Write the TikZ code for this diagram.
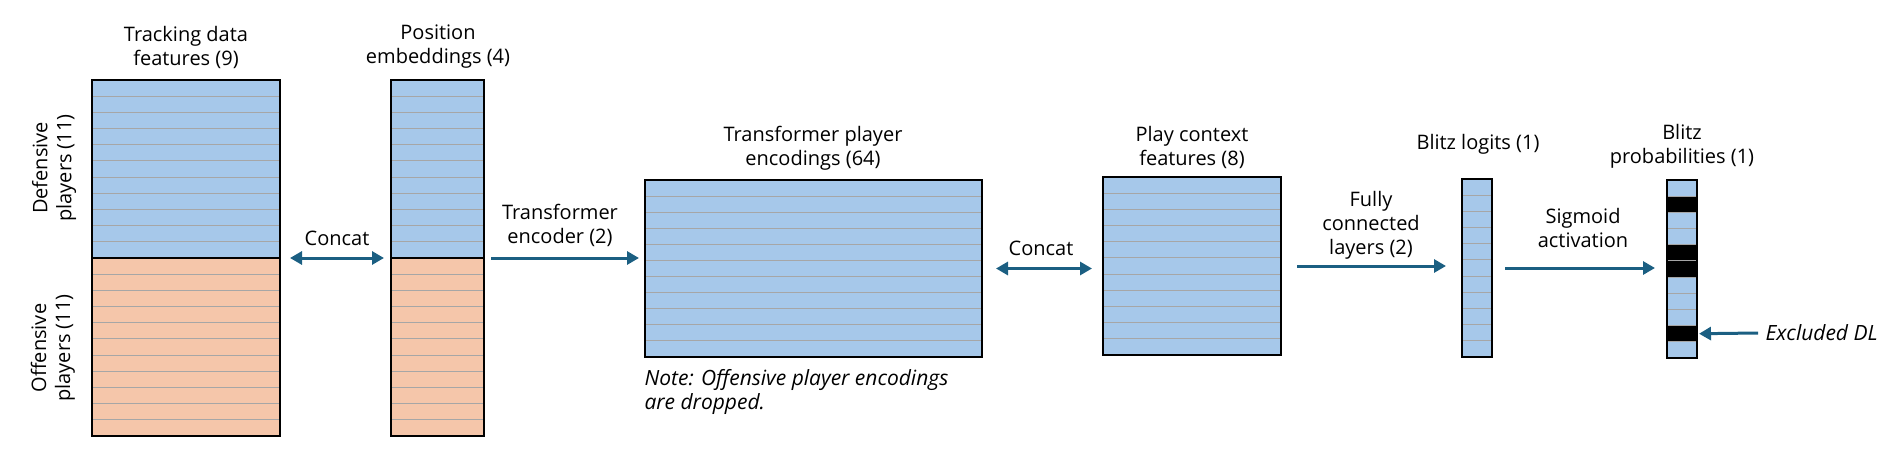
\documentclass[tikz,border=0pt]{standalone}
\usepackage{fontspec}
\setmainfont{Open Sans}
\usetikzlibrary{arrows.meta,positioning,calc}
\definecolor{defblue}{HTML}{A6C8EA}
\definecolor{offorange}{HTML}{F5C6AA}
\definecolor{arrowblue}{HTML}{1B5F82}
\definecolor{rowgray}{HTML}{A6A6A6}

\begin{document}
\begin{tikzpicture}[x=1pt, y=-1pt,
        font=\fontsize{20}{24}\selectfont,
        block/.style={fill=defblue, inner sep=0, outer sep=0, anchor=north west},
        txt/.style={align=center},
        ital/.style={font=\fontsize{21}{24}\selectfont\itshape},
        arr/.style={draw=arrowblue, line width=3pt, -{Triangle[length=12pt,width=13pt]}},
        biarr/.style={arr, {Triangle[length=12pt,width=13pt]}-{Triangle[length=12pt,width=13pt]}}]

        \useasboundingbox (0,0) rectangle (1898,468);

        % Define the blocks
        \node[block, minimum width=188, minimum height=178] (trackD) at (92,80) {};
        \node[block, fill=offorange, minimum width=188, minimum height=178] (trackO) at (trackD.south west) {};
        \node[block, minimum width=93, minimum height=178] (posD) at (391,80) {};
        \node[block, fill=offorange, minimum width=93, minimum height=178] (posO) at (posD.south west) {};
        \node[block, minimum width=337, minimum height=177] (enc) at (645,180) {};
        \node[block, minimum width=178, minimum height=178] (ctx) at (1103,177) {};
        \node[block, minimum width=30, minimum height=178] (logit) at (1462,179) {};
        \node[block, minimum width=30, minimum height=178] (prob) at (1667,180) {};

        % Excluded rows
        \foreach \r in {2,5,6,10}
            \fill[black] ($(prob.north west)!{(\r-1)/11}!(prob.south west)$) rectangle ($(prob.north east)!{\r/11}!(prob.south east)$);
        \coordinate (dlrow) at ($(prob.north east)!9.5/11!(prob.south east)$);

        % Row lines
        \foreach \n in {trackD,trackO,posD,posO,enc,ctx,logit,prob}
            \foreach \i in {1,...,10}
                \draw[rowgray, line width=1pt] ($(\n.north west)!{\i/11}!(\n.south west)$) -- ($(\n.north east)!{\i/11}!(\n.south east)$);
        \foreach \n in {trackD,trackO,posD,posO,enc,ctx,logit,prob}
            \draw[line width=1.2pt] (\n.north west) rectangle (\n.south east);

        % Titles
        \node[txt] (trackT) at (186,47) {Tracking data\\features (9)};
        \node[txt] (posT) at (438,47) {Position\\embeddings (4)};
        \node[txt] (encT) at (813,148) {Transformer player\\encodings (64)};
        \node[txt] (ctxT) at (1192,147) {Play context\\features (8)};
        \node[txt] (logitT) at (1478,144) {Blitz logits (1)};
        \node[txt] (probT) at (1682,146) {Blitz\\probabilities (1)};
        \node[txt, rotate=90] (defL) at (54,168) {Defensive\\players (11)};
        \node[txt, rotate=90] (offL) at (53,348) {Offensive\\players (11)};
        \node[ital, align=left, anchor=west] (note) at (641,392) {Note: Offensive player encodings\\are dropped.};

        % Arrows
        \draw[biarr] ($(trackD.south east)+(10,0)$) -- ($(posD.south west)+(-7,0)$);
        \node[txt] (concatA) at (337,238) {Concat};
        \draw[arr] ($(posD.south east)+(7,0)$) -- ($(posD.south east -| enc.west)+(-6,0)$);
        \node[txt] (encL) at (560,225) {Transformer\\encoder (2)};
        \draw[biarr] ($(enc.east)+(14,0)$) -- ($(enc.east -| ctx.west)+(-11,0)$);
        \node[txt] (concatB) at (1041,248) {Concat};
        \draw[arr] ($(ctx.east)+(16,0)$) -- ($(ctx.east -| logit.west)+(-16,0)$);
        \node[txt] (fcL) at (1371,225) {Fully\\connected\\layers (2)};
        \draw[arr] ($(logit.east)+(13,0)$) -- ($(logit.east -| prob.west)+(-12,0)$);
        \node[txt] (sigL) at (1583,228) {Sigmoid\\activation};
        \node[ital, anchor=west] (excl) at (1762,333) {Excluded DL};
        \draw[arr] ($(excl.west)+(-4,0)$) -- ($(dlrow)+(2,0)$);
    \end{tikzpicture}
\end{document}
